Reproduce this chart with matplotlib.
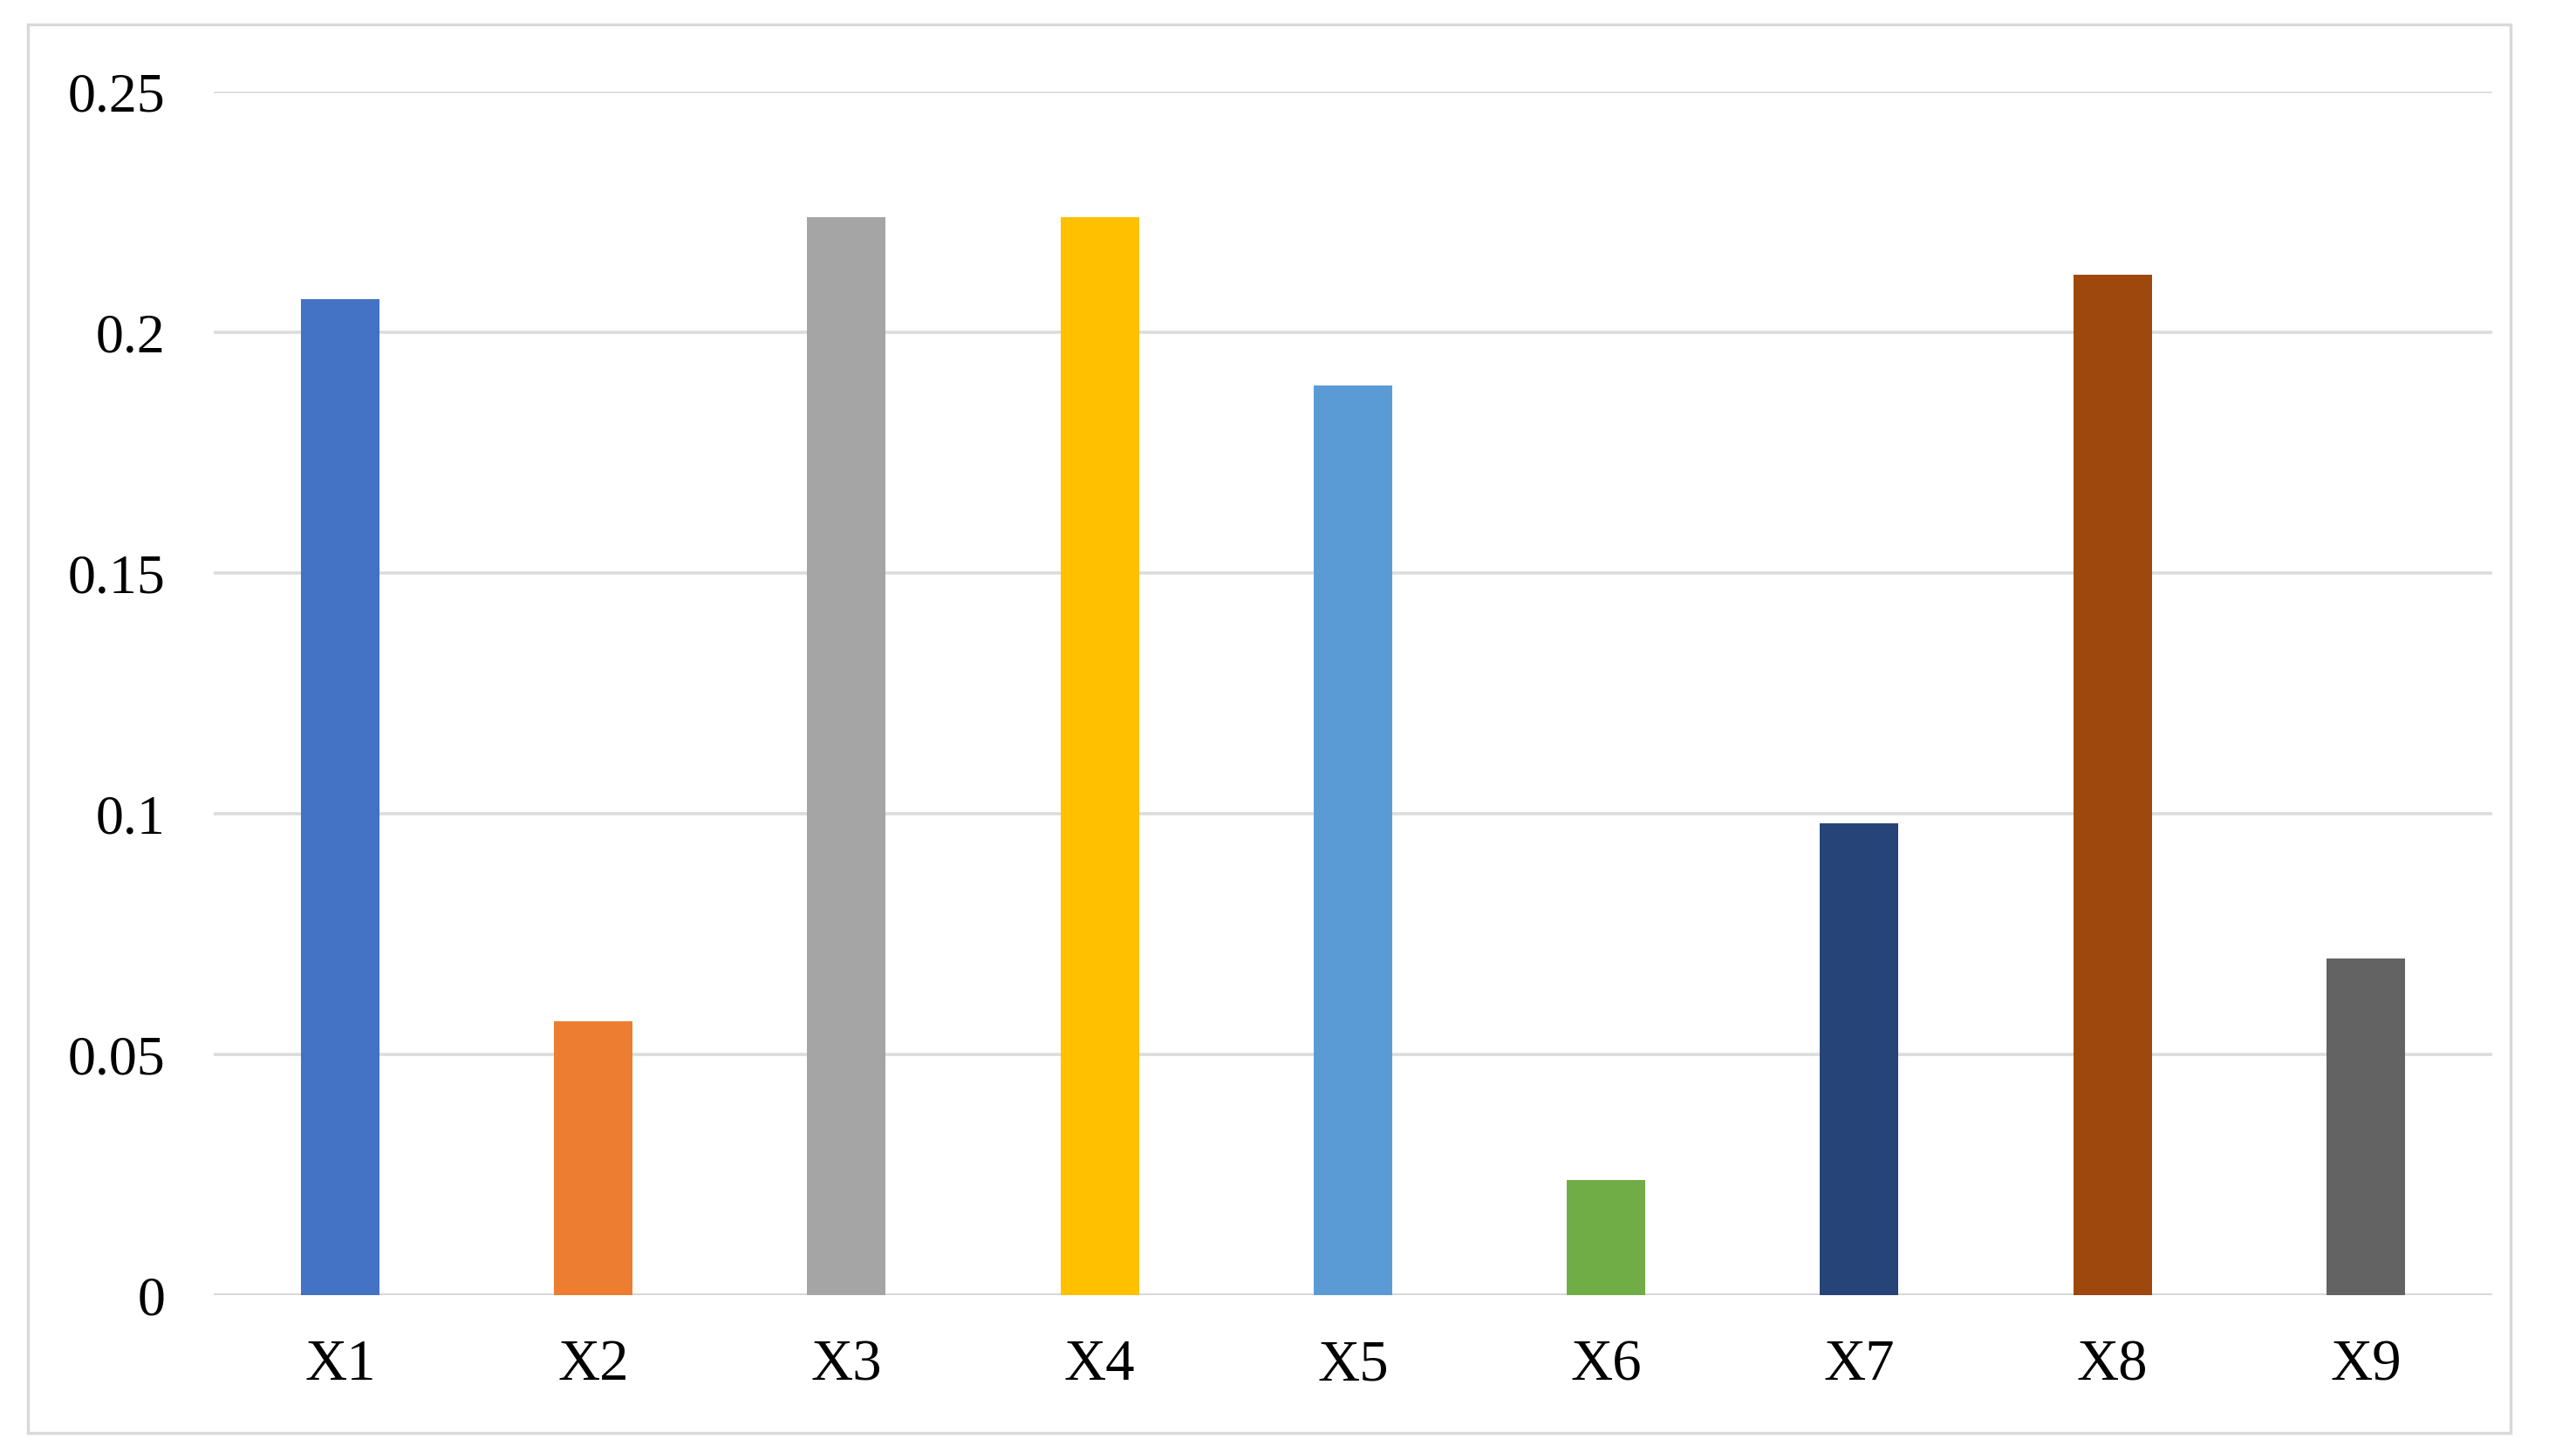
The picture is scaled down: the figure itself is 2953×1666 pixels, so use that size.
import matplotlib
matplotlib.use("Agg")
import matplotlib.pyplot as plt
from matplotlib.patches import Rectangle

categories = ["X1", "X2", "X3", "X4", "X5", "X6", "X7", "X8", "X9"]
values = [0.207, 0.057, 0.224, 0.224, 0.189, 0.024, 0.098, 0.212, 0.070]
colors = ["#4472C4", "#ED7D31", "#A5A5A5", "#FFC000", "#5B9BD5",
          "#70AD47", "#264478", "#9E480E", "#636363"]
yticks = [0, 0.05, 0.1, 0.15, 0.2, 0.25]
ytick_labels = ["0", "0.05", "0.1", "0.15", "0.2", "0.25"]

plt.rcParams['font.family'] = ['Liberation Serif', 'DejaVu Serif']

fig = plt.figure(figsize=(29.53, 16.66), dpi=100)
fig.patch.set_facecolor("white")
# outer chart frame
fig.patches.append(Rectangle((17/1568, 1 - 873/885), (1528 - 17)/1568, (873 - 15)/885,
                             transform=fig.transFigure, fill=False,
                             edgecolor="#d9d9d9", linewidth=2.5))

ax = fig.add_axes([130/1568, 1 - 789/885, (1517 - 130)/1568, (789 - 56)/885])
x = list(range(len(categories)))
ax.bar(x, values, width=0.31, color=colors, zorder=3)
ax.set_xlim(-0.5, len(categories) - 0.5)
ax.set_ylim(0, 0.25)
ax.set_yticks(yticks)
ax.set_yticklabels(ytick_labels)
ax.set_xticks(x)
ax.set_xticklabels(categories)
ax.tick_params(axis='y', length=0, labelsize=46, colors="black", pad=40)
ax.tick_params(axis='x', length=0, labelsize=48, colors="black", pad=36)
for s in ax.spines.values():
    s.set_visible(False)
ax.yaxis.grid(True, color="#dcdcdc", linewidth=2.6, zorder=0)
ax.set_axisbelow(True)
ax.axhline(0, color="#d9d9d9", linewidth=3.0, zorder=2)
ax.set_facecolor("white")

fig.savefig("out.png", dpi=100)
